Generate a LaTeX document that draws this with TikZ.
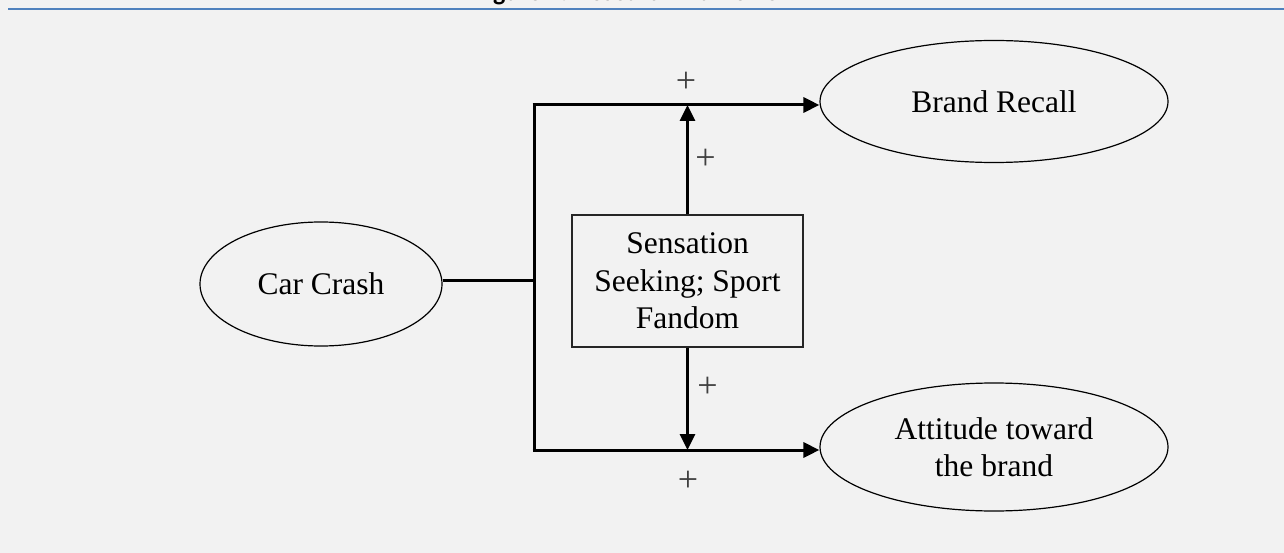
\documentclass[tikz,border=0pt]{standalone}
\usepackage{fontspec}
\setmainfont{Liberation Serif}
\newfontfamily\titlefont{Carlito}
\usetikzlibrary{arrows.meta,shapes.geometric}
\definecolor{bgc}{HTML}{F2F2F2}
\definecolor{rulec}{HTML}{4F81BD}
\tikzset{
  lbl/.style={font=\fontsize{31.5}{37.5}\selectfont, align=center},
  oval/.style={ellipse, draw, line width=1.2pt, inner sep=0pt, lbl},
  boxnode/.style={rectangle, draw=black!85, line width=1.2pt, inner sep=0pt, lbl},
  conn/.style={line width=3pt},
  arr/.style={line width=3pt, -{Triangle[length=16pt,width=15pt]}},
  plus/.style={font=\fontsize{36}{40}\selectfont, text=black!75, inner sep=0pt},
}
\begin{document}
\begin{tikzpicture}[x=1pt,y=-1pt]
\fill[bgc] (0,0) rectangle (1284,553);
\useasboundingbox (0,0) rectangle (1284,553);
\begin{scope}
  \clip (0,0) rectangle (1284,553);
  \node[anchor=base, font=\titlefont\bfseries\fontsize{26}{30}\selectfont, inner sep=0pt] (title) at (638,0.8) {Figure 1: Research Framework};
\end{scope}
\coordinate (rl) at (8,8.7);
\coordinate (rr) at (1284,8.7);
\draw[rulec, line width=2pt] (rl) -- (rr);

\node[oval, minimum width=242pt, minimum height=124pt] (cc) at (321,284) {Car Crash};
\node[oval, minimum width=348pt, minimum height=122pt] (br) at (994,101.5) {Brand Recall};
\node[oval, minimum width=348pt, minimum height=128pt] (at) at (994,447) {Attitude toward\\the brand};
\node[boxnode, minimum width=231pt, minimum height=132pt] (ss) at (687.5,281) {Sensation\\Seeking; Sport\\Fandom};

\coordinate (jn) at (534,280);
\coordinate (tl) at (534,105);
\coordinate (bl) at (534,450);

\draw[conn] (cc.east |- jn) -- (jn);
\draw[conn] (tl) -- (bl);
\draw[arr] ([xshift=-1.5pt]tl) -- (br.west |- tl);
\draw[arr] ([xshift=-1.5pt]bl) -- (at.west |- bl);
\draw[arr] (ss.north) -- (ss.north |- tl);
\draw[arr] (ss.south) -- (ss.south |- bl);

\node[plus] (p1) at (686,82) {+};
\node[plus] (p2) at (705.5,159) {+};
\node[plus] (p3) at (707.5,387) {+};
\node[plus] (p4) at (688,481.5) {+};
\end{tikzpicture}
\end{document}
